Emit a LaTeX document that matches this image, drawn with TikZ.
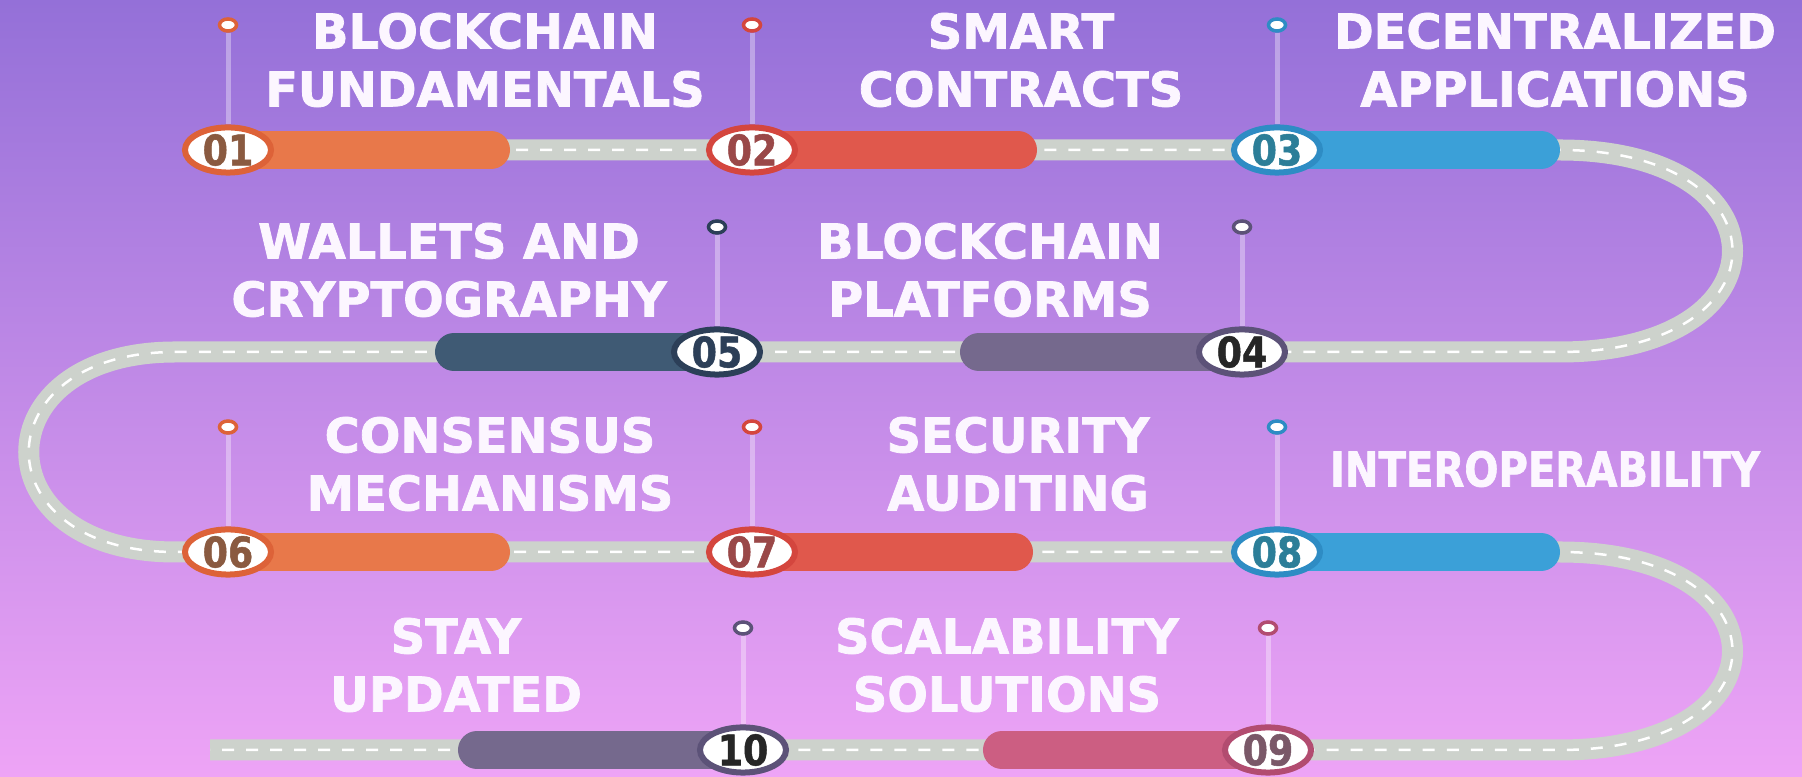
\documentclass[tikz,border=0pt]{standalone}
\usepackage{fontspec}
\setmainfont{DejaVu Sans}
\newfontfamily\topicfont{DejaVu Sans}[BoldFeatures={FakeBold=1.6}]
\newfontfamily\numfont{DejaVu Sans}[BoldFeatures={FakeStretch=0.86, FakeBold=1.2}]
\usetikzlibrary{shapes.geometric}

\definecolor{bgtop}{HTML}{9470D8}
\definecolor{bgbot}{HTML}{EEA4F6}
\definecolor{roadgrey}{HTML}{CDD2CC}
\definecolor{orangebar}{HTML}{E8784A}
\definecolor{orangering}{HTML}{DD6238}
\definecolor{orangenum}{HTML}{8A5A40}
\definecolor{redbar}{HTML}{E0584C}
\definecolor{redring}{HTML}{D4463E}
\definecolor{rednum}{HTML}{9A4848}
\definecolor{bluebar}{HTML}{3BA0D8}
\definecolor{bluering}{HTML}{2E8CC4}
\definecolor{bluenum}{HTML}{2C7E98}
\definecolor{mauvebar}{HTML}{75698D}
\definecolor{mauvering}{HTML}{5C5278}
\definecolor{slatebar}{HTML}{3F5A74}
\definecolor{slatering}{HTML}{2C3F58}
\definecolor{pinkbar}{HTML}{CC5E82}
\definecolor{pinkring}{HTML}{B24C70}
\definecolor{pinknum}{HTML}{7A5868}
\definecolor{topicwhite}{HTML}{FCF6FF}

\pgfdeclarelayer{bg}
\pgfsetlayers{bg,main}

\begin{document}
\begin{tikzpicture}[x=0.01cm, y=-0.01cm,
    road/.style={draw=roadgrey, line width=0.21cm},
    lane/.style={draw=white, line width=0.025cm, dash pattern=on 0.12cm off 0.12cm},
    bar/.style={line width=0.38cm, line cap=round},
    badge/.style={ellipse, draw=#1, fill=white, line width=0.06cm, minimum width=0.86cm,
        minimum height=0.44cm, inner sep=0pt, font=\numfont\bfseries\fontsize{12}{12}\selectfont},
    pin/.style={ellipse, draw=#1, fill=white, line width=0.035cm, minimum width=0.17cm,
        minimum height=0.12cm, inner sep=0pt},
    stem/.style={draw=white, opacity=0.35, line width=0.05cm},
    topic/.style={text=topicwhite, align=center, inner sep=0pt,
        font=\topicfont\bfseries\fontsize{13.6}{16.5}\selectfont}]
    \useasboundingbox (0,0) rectangle (1802,777);
    %
    % badges
    \node [badge=orangering, text=orangenum] (b1) at (228,150) {01};
    \node [badge=redring, text=rednum] (b2) at (752,150) {02};
    \node [badge=bluering, text=bluenum] (b3) at (1277,150) {03};
    \node [badge=mauvering, text=black!85] (b4) at (1242,352) {04};
    \node [badge=slatering, text=slatering] (b5) at (717,352) {05};
    \node [badge=orangering, text=orangenum] (b6) at (228,552) {06};
    \node [badge=redring, text=rednum] (b7) at (752,552) {07};
    \node [badge=bluering, text=bluenum] (b8) at (1277,552) {08};
    \node [badge=pinkring, text=pinknum] (b9) at (1268,750) {09};
    \node [badge=mauvering, text=black!85] (b10) at (743,750) {10};
    %
    % pins
    \node [pin=orangering] (p1) at (228,25) {};
    \node [pin=redring] (p2) at (752,25) {};
    \node [pin=bluering] (p3) at (1277,25) {};
    \node [pin=mauvering] (p4) at (1242,227) {};
    \node [pin=slatering] (p5) at (717,227) {};
    \node [pin=orangering] (p6) at (228,427) {};
    \node [pin=redring] (p7) at (752,427) {};
    \node [pin=bluering] (p8) at (1277,427) {};
    \node [pin=pinkring] (p9) at (1268,628) {};
    \node [pin=mauvering] (p10) at (743,628) {};
    %
    % bar ends and road bends
    \coordinate (e1) at (491,150);
    \coordinate (e2) at (1018,150);
    \coordinate (e3) at (1541,150);
    \coordinate (e4) at (979,352);
    \coordinate (e5) at (454,352);
    \coordinate (e6) at (491,552);
    \coordinate (e7) at (1014,552);
    \coordinate (e8) at (1541,552);
    \coordinate (e9) at (1002,750);
    \coordinate (e10) at (477,750);
    \coordinate (c1) at (1560,150);
    \coordinate (c2) at (1560,352);
    \coordinate (c3) at (175,352);
    \coordinate (c4) at (175,552);
    \coordinate (c5) at (1560,552);
    \coordinate (c6) at (1560,750);
    \coordinate (c7) at (210,750);
    %
    \begin{pgfonlayer}{bg}
        \shade [top color=bgtop, bottom color=bgbot] (0,0) rectangle (1802,777);
        \draw [road, postaction={lane}] (b1.center) -- (c1)
            .. controls (1790,150) and (1790,352) .. (c2) -- (c3)
            .. controls (-20,352) and (-20,552) .. (c4) -- (c5)
            .. controls (1790,552) and (1790,750) .. (c6) -- (c7);
        %
        \path (p1) edge[stem] (b1);
        \path (p2) edge[stem] (b2);
        \path (p3) edge[stem] (b3);
        \path (p4) edge[stem] (b4);
        \path (p5) edge[stem] (b5);
        \path (p6) edge[stem] (b6);
        \path (p7) edge[stem] (b7);
        \path (p8) edge[stem] (b8);
        \path (p9) edge[stem] (b9);
        \path (p10) edge[stem] (b10);
        %
        \draw [bar, orangebar] (b1.center) -- (e1);
        \draw [bar, redbar] (b2.center) -- (e2);
        \draw [bar, bluebar] (b3.center) -- (e3);
        \draw [bar, mauvebar] (b4.center) -- (e4);
        \draw [bar, slatebar] (b5.center) -- (e5);
        \draw [bar, orangebar] (b6.center) -- (e6);
        \draw [bar, redbar] (b7.center) -- (e7);
        \draw [bar, bluebar] (b8.center) -- (e8);
        \draw [bar, pinkbar] (b9.center) -- (e9);
        \draw [bar, mauvebar] (b10.center) -- (e10);
    \end{pgfonlayer}
    %
    % topics
    \node [topic] (t1) at (485,60) {BLOCKCHAIN\\FUNDAMENTALS};
    \node [topic] (t2) at (1021,60) {SMART\\CONTRACTS};
    \node [topic] (t3) at (1555,60) {DECENTRALIZED\\APPLICATIONS};
    \node [topic] (t4) at (990,270) {BLOCKCHAIN\\PLATFORMS};
    \node [topic] (t5) at (449,270) {WALLETS AND\\CRYPTOGRAPHY};
    \node [topic] (t6) at (490,464) {CONSENSUS\\MECHANISMS};
    \node [topic] (t7) at (1018,464) {SECURITY\\AUDITING};
    \node [topic] (t8) at (1545,469) {\scalebox{0.84}[1]{INTEROPERABILITY}};
    \node [topic] (t9) at (1007,665) {SCALABILITY\\SOLUTIONS};
    \node [topic] (t10) at (456,665) {STAY\\UPDATED};
\end{tikzpicture}
\end{document}
